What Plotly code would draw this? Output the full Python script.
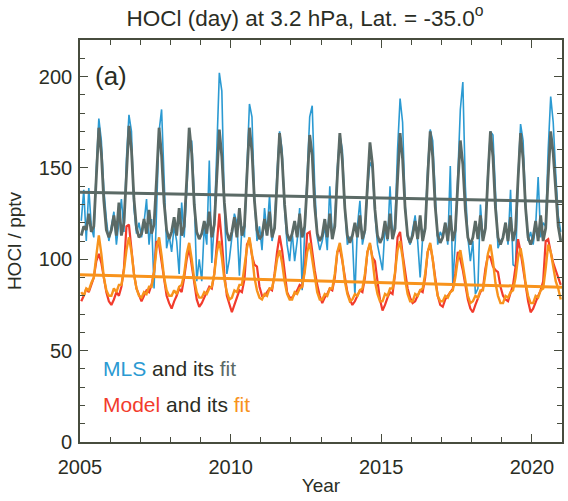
import plotly.graph_objects as go

# ---------------- data (monthly, Jan 2005 - Dec 2020) ----------------
start_year = 2005
n_years = 16

mls = [
    [121, 138, 110, 139, 118, 112, 150, 177, 165, 138, 122, 110],  # 2005
    [118, 126, 108, 120, 133, 115, 155, 179, 170, 128, 114, 120],  # 2006
    [112, 120, 133, 108, 122, 84, 128, 170, 182, 140, 106, 113],   # 2007
    [104, 118, 110, 92, 131, 112, 140, 162, 165, 135, 88, 100],    # 2008
    [88, 118, 108, 154, 98, 120, 160, 202, 192, 130, 92, 100],     # 2009
    [112, 125, 120, 91, 118, 112, 150, 185, 178, 133, 110, 118],   # 2010
    [105, 128, 115, 135, 110, 118, 148, 170, 160, 128, 108, 99],   # 2011
    [115, 99, 110, 128, 83, 115, 150, 178, 184, 140, 112, 105],    # 2012
    [110, 118, 105, 140, 112, 120, 150, 168, 160, 128, 108, 112],  # 2013
    [112, 80, 118, 132, 108, 115, 138, 153, 150, 125, 108, 100],   # 2014
    [94, 118, 110, 140, 112, 120, 160, 188, 175, 130, 112, 108],   # 2015
    [115, 124, 110, 90, 112, 118, 150, 171, 165, 132, 108, 115],   # 2016
    [112, 120, 108, 151, 86, 110, 150, 182, 197, 140, 112, 99],    # 2017
    [110, 81, 84, 130, 112, 118, 148, 170, 168, 135, 106, 110],    # 2018
    [112, 120, 108, 138, 97, 96, 145, 174, 165, 130, 110, 115],    # 2019
    [108, 118, 145, 112, 120, 118, 160, 189, 175, 147, 124, 115],  # 2020
]

mls_fit = [
    [113, 118, 116, 125, 115, 118, 145, 172, 158, 132, 116, 112],
    [116, 124, 113, 131, 113, 120, 146, 173, 160, 133, 117, 112],
    [114, 122, 114, 127, 114, 119, 144, 172, 157, 131, 116, 111],
    [115, 123, 113, 128, 113, 118, 143, 172, 158, 130, 115, 111],
    [114, 121, 114, 126, 112, 119, 145, 171, 156, 131, 115, 110],
    [115, 123, 112, 128, 113, 118, 146, 172, 159, 132, 116, 111],
    [113, 122, 113, 126, 112, 117, 142, 169, 155, 130, 114, 110],
    [114, 121, 112, 125, 112, 118, 141, 168, 157, 129, 114, 110],
    [113, 122, 112, 125, 111, 118, 145, 169, 154, 128, 113, 109],
    [113, 120, 112, 124, 111, 116, 140, 164, 152, 127, 113, 109],
    [112, 121, 111, 125, 111, 117, 144, 169, 155, 128, 113, 109],
    [113, 121, 111, 124, 110, 117, 145, 170, 156, 129, 113, 109],
    [112, 120, 110, 124, 110, 116, 141, 165, 152, 127, 112, 108],
    [112, 121, 111, 124, 110, 117, 145, 170, 156, 128, 112, 108],
    [112, 120, 110, 123, 110, 116, 144, 169, 155, 128, 112, 108],
    [112, 121, 110, 124, 110, 117, 145, 170, 158, 136, 118, 110],
]

model = [
    [77, 80, 84, 82, 86, 90, 99, 103, 98, 90, 82, 77],
    [75, 78, 82, 80, 85, 95, 118, 119, 105, 92, 84, 80],
    [77, 80, 83, 82, 86, 93, 110, 108, 98, 90, 80, 76],
    [73, 77, 80, 84, 82, 90, 100, 106, 97, 86, 78, 74],
    [76, 79, 82, 85, 84, 92, 108, 125, 110, 92, 80, 75],
    [71, 75, 79, 83, 82, 89, 108, 111, 102, 97, 96, 85],
    [80, 80, 82, 84, 83, 92, 104, 113, 105, 92, 82, 79],
    [79, 81, 83, 86, 85, 94, 114, 115, 104, 94, 86, 80],
    [76, 79, 81, 84, 83, 90, 104, 106, 99, 90, 82, 78],
    [75, 77, 80, 83, 82, 90, 104, 108, 101, 99, 88, 78],
    [72, 75, 79, 82, 81, 92, 112, 115, 103, 92, 84, 79],
    [76, 77, 80, 83, 82, 90, 104, 108, 100, 90, 80, 75],
    [74, 78, 80, 82, 84, 92, 104, 100, 94, 86, 78, 73],
    [71, 75, 79, 82, 84, 95, 102, 101, 96, 94, 93, 85],
    [80, 78, 77, 82, 86, 96, 111, 104, 96, 86, 77, 71],
    [73, 77, 80, 83, 88, 110, 111, 104, 98, 94, 90, 86],
]

model_fit = [
    [82, 80, 84, 83, 87, 90, 102, 113, 103, 90, 83, 80],
    [80, 84, 82, 86, 86, 94, 105, 112, 104, 92, 84, 80],
    [79, 82, 81, 85, 85, 93, 106, 112, 102, 90, 83, 80],
    [80, 83, 81, 85, 86, 92, 103, 109, 100, 89, 82, 79],
    [79, 82, 81, 84, 85, 92, 104, 110, 101, 89, 82, 78],
    [79, 83, 82, 86, 86, 95, 106, 112, 103, 90, 83, 79],
    [78, 81, 80, 84, 84, 91, 100, 105, 98, 88, 81, 78],
    [78, 82, 81, 84, 85, 93, 104, 109, 100, 89, 82, 78],
    [78, 81, 80, 84, 84, 92, 104, 109, 100, 88, 81, 77],
    [78, 81, 80, 83, 84, 92, 104, 109, 100, 88, 81, 77],
    [77, 81, 80, 84, 84, 93, 105, 110, 101, 89, 81, 77],
    [77, 81, 80, 83, 84, 92, 104, 109, 100, 88, 80, 77],
    [77, 80, 79, 82, 83, 90, 100, 105, 97, 87, 80, 76],
    [77, 80, 79, 83, 83, 92, 103, 108, 99, 87, 80, 76],
    [76, 80, 79, 82, 83, 90, 101, 106, 98, 87, 80, 76],
    [76, 80, 79, 83, 84, 95, 108, 104, 96, 88, 84, 78],
]

trend_years = [2005, 2021]
mls_trend = [136.7, 131.6]
model_trend = [91.5, 84.7]

x_ticks = [2005, 2010, 2015, 2020]
y_ticks = [0, 50, 100, 150, 200]

# ---------------- styling ----------------
C_MLS = "#2b9ad2"
C_MLS_FIT = "#5b6a66"
C_MODEL = "#f23b2c"
C_MODEL_FIT = "#f8931c"
C_AXIS = "#474c3e"
C_TEXT = "#2a2d24"
FONT = "Liberation Sans, Arial, sans-serif"


def flat(rows):
    return [v for r in rows for v in r]


months = [start_year + (i + 0.5) / 12 for i in range(n_years * 12)]

fig = go.Figure()
fig.add_trace(go.Scatter(x=months, y=flat(mls), mode="lines",
                         line=dict(color=C_MLS, width=1.6), name="MLS"))
fig.add_trace(go.Scatter(x=months, y=flat(mls_fit), mode="lines",
                         line=dict(color=C_MLS_FIT, width=2.8), name="MLS fit"))
fig.add_trace(go.Scatter(x=trend_years, y=mls_trend, mode="lines",
                         line=dict(color=C_MLS_FIT, width=3), name="MLS trend"))
fig.add_trace(go.Scatter(x=months, y=flat(model), mode="lines",
                         line=dict(color=C_MODEL, width=2.2), name="Model"))
fig.add_trace(go.Scatter(x=months, y=flat(model_fit), mode="lines",
                         line=dict(color=C_MODEL_FIT, width=2.4), name="Model fit"))
fig.add_trace(go.Scatter(x=trend_years, y=model_trend, mode="lines",
                         line=dict(color=C_MODEL_FIT, width=3), name="Model trend"))

axis_common = dict(
    showline=True, linecolor=C_AXIS, linewidth=1.6, mirror="allticks",
    ticks="inside", ticklen=8, tickwidth=1.2, tickcolor=C_AXIS,
    showgrid=False, zeroline=False,
    tickfont=dict(family=FONT, size=20, color=C_TEXT),
)

fig.update_layout(
    width=568, height=501,
    margin=dict(l=80, r=4, t=40, b=59),
    paper_bgcolor="white", plot_bgcolor="white",
    showlegend=False,
    title=dict(text="HOCl (day) at 3.2 hPa, Lat. = -35.0<sup>o</sup>",
               x=305 / 568, xanchor="center", xref="container",
               y=1 - 18 / 501, yanchor="middle", yref="container",
               font=dict(family=FONT, size=22.5, color=C_TEXT)),
    xaxis=dict(range=[2005, 2021], tickvals=x_ticks, ticktext=[str(v) for v in x_ticks],
               minor=dict(dtick=1, tick0=2005, ticks="inside", ticklen=5,
                          tickcolor=C_AXIS, tickwidth=1.2, showgrid=False),
               ticklabelstandoff=6,
               title=dict(text="Year", standoff=2,
                          font=dict(family=FONT, size=19, color=C_TEXT)),
               **axis_common),
    yaxis=dict(range=[0, 220], tickvals=y_ticks, ticktext=[str(v) for v in y_ticks],
               minor=dict(dtick=10, tick0=0, ticks="inside", ticklen=5,
                          tickcolor=C_AXIS, tickwidth=1.2, showgrid=False),
               ticklabelstandoff=2,
               title=dict(text="HOCl / pptv", standoff=12,
                          font=dict(family=FONT, size=19, color=C_TEXT)),
               **axis_common),
)

fig.add_annotation(x=2005.43, y=200.5, xref="x", yref="y", text="(a)",
                   showarrow=False, xanchor="left", yanchor="middle",
                   font=dict(family=FONT, size=26, color=C_TEXT))
fig.add_annotation(x=2005.70, y=40, xref="x", yref="y",
                   text=f"<span style='color:{C_MLS}'>MLS</span> and its "
                        f"<span style='color:{C_MLS_FIT}'>fit</span>",
                   showarrow=False, xanchor="left", yanchor="middle",
                   font=dict(family=FONT, size=21, color=C_TEXT))
fig.add_annotation(x=2005.70, y=20.5, xref="x", yref="y",
                   text=f"<span style='color:{C_MODEL}'>Model</span> and its "
                        f"<span style='color:{C_MODEL_FIT}'>fit</span>",
                   showarrow=False, xanchor="left", yanchor="middle",
                   font=dict(family=FONT, size=21, color=C_TEXT))

fig.write_html("out.html")
